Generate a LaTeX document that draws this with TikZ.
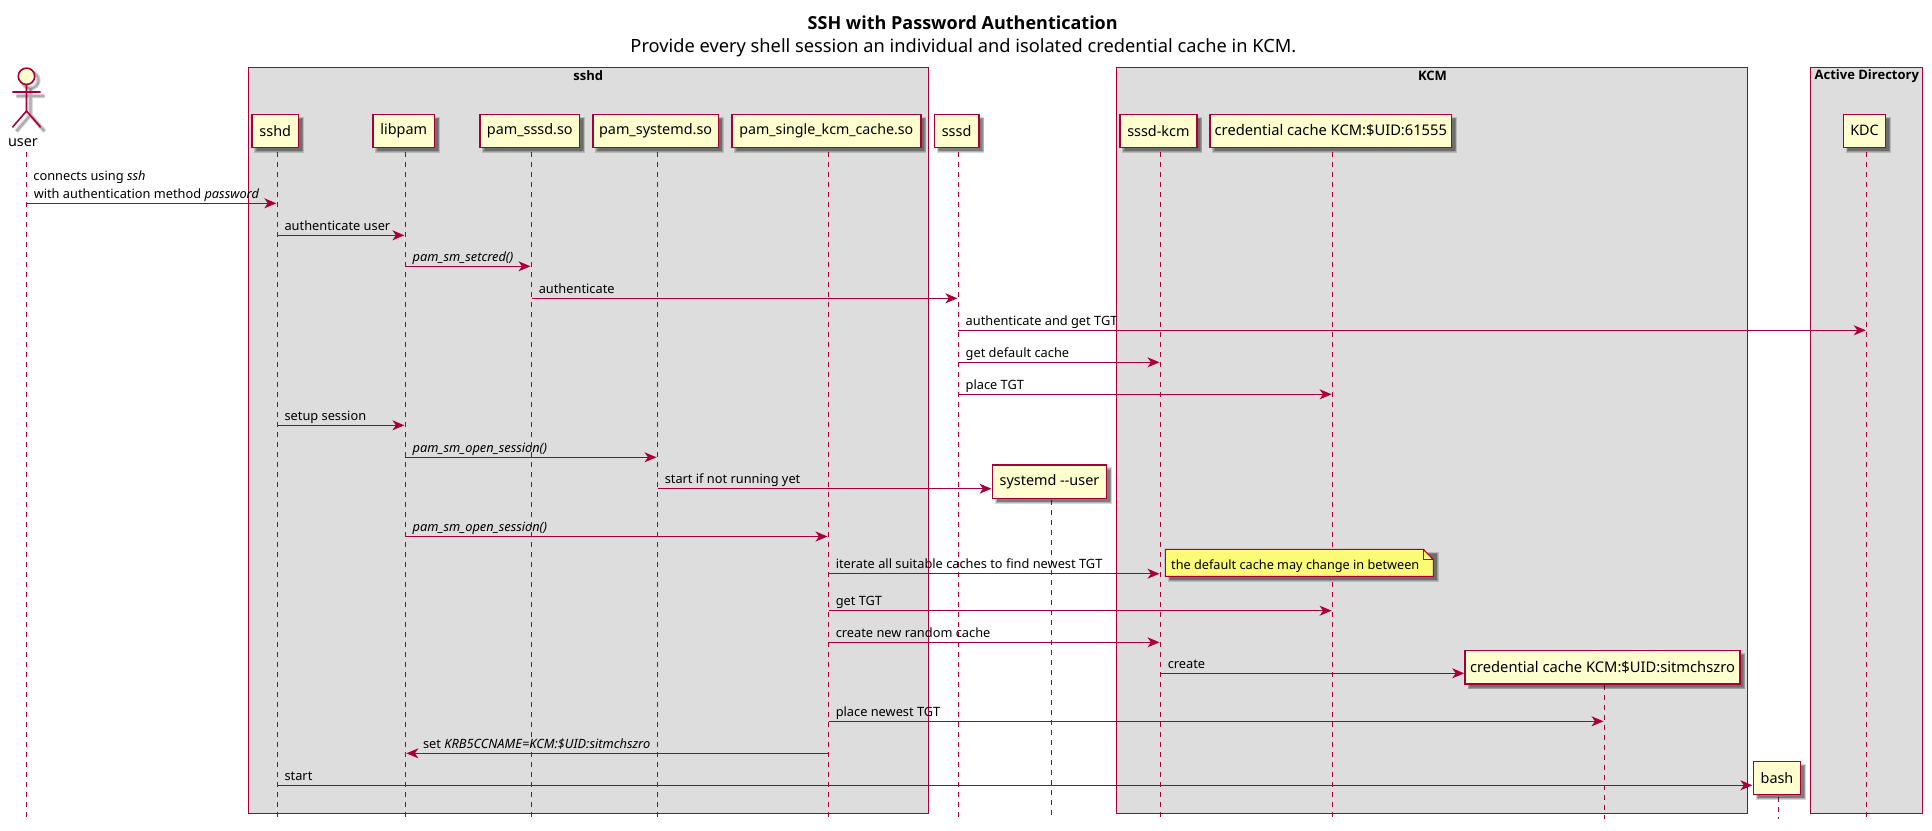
\documentclass[tikz,border=0pt]{standalone}
\usepackage{fontspec}
\setmainfont{Noto Sans}
\newfontfamily\nsbold{Open Sans}
\usetikzlibrary{arrows.meta,calc}
\definecolor{pborder}{HTML}{A80036}
\definecolor{pfill}{HTML}{FEFECE}
\definecolor{notefill}{HTML}{FBFB77}
\definecolor{groupfill}{HTML}{DDDDDD}
\tikzset{
  groupbox/.style={draw=pborder,fill=groupfill,line width=1.2pt},
  grouptitle/.style={inner sep=0pt,font=\nsbold\bfseries\fontsize{13}{15}\selectfont,anchor=center,text=black},
  pbox/.style={draw=pborder,fill=pfill,line width=1.6pt,inner sep=0pt,outer sep=0pt,font=\fontsize{14.4}{17}\selectfont,text=black},
  life/.style={draw=pborder,line width=1pt,dash pattern=on 5pt off 5pt},
  msg/.style={draw=pborder,line width=1.1pt,-{Stealth[length=12pt,width=10pt,inset=3.5pt]},shorten >=1pt},
  msgtext/.style={inner sep=0pt,anchor=base west,font=\fontsize{12.8}{15}\selectfont,text=black},
  actorline/.style={draw=pborder,line width=1.6pt},
}
% soft drop shadow of a rectangle
\newcommand{\softshade}[4]{%
  \foreach \e in {1.6,0.8,0,-0.8}{%
    \fill[black,opacity=0.16] ({#1+4-\e},{#2+4-\e}) rectangle ({#3+4+\e},{#4+4+\e});}}
% name, x1, y1, x2, y2, text
\newcommand{\partbox}[6]{%
  \softshade{#2}{#3}{#4}{#5}%
  \node[pbox,minimum width={(#4-#2)*1pt},minimum height={(#5-#3)*1pt}] (#1) at ({(#2+#4)/2},{(#3+#5)/2}) {#6};}
% name, x, top, bottom
\newcommand{\lifeline}[4]{%
  \coordinate (#1) at (#2,#3);
  \coordinate (#1-end) at (#2,#4);
  \draw[life] (#1) -- (#1-end);}
% id, from, to, y, text
\newcommand{\msgright}[5]{%
  \draw[msg] (#2 |- 0,#4) -- (#3 |- 0,#4)
    node[msgtext,pos=0,xshift=6.7pt,yshift=4.8pt] (#1) {#5};}
\begin{document}
\begin{tikzpicture}[x=1pt,y=-1pt]
\useasboundingbox (0,0) rectangle (1932,830);
\fill[white] (0,0) rectangle (1932,830);
% title
\node[inner sep=0pt,font=\nsbold\bfseries\fontsize{18}{21}\selectfont] (title) at (962.7,22.7) {SSH with Password Authentication};
\node[inner sep=0pt,font=\fontsize{18.25}{21}\selectfont] (subtitle) at (963.4,47.7) {Provide every shell session an individual and isolated credential cache in KCM.};
% groups
\draw[groupbox] (248.7,67.5) rectangle (928.6,813.3);
\draw[groupbox] (1116.8,67.5) rectangle (1747.6,813.3);
\draw[groupbox] (1810.6,67.5) rectangle (1922.5,813.3);
\node[grouptitle] (g-sshd) at (588.3,76) {sshd};
\node[grouptitle] (g-kcm) at (1432.5,76) {KCM};
\node[grouptitle] (g-ad) at (1866.8,76) {Active Directory};
% lifelines
\lifeline{user}{26.5}{152.3}{817.3}
\lifeline{sshd}{277.3}{152.3}{817.3}
\lifeline{libpam}{405.4}{152.3}{817.3}
\lifeline{sssdso}{531.5}{152.3}{817.3}
\lifeline{systemdso}{657.5}{152.3}{817.3}
\lifeline{singlekcm}{828.5}{152.3}{817.3}
\lifeline{sssd}{958.4}{152.3}{817.3}
\lifeline{systemduser}{1051.3}{500}{815}
\lifeline{sssdkcm}{1160.5}{152.3}{817.3}
\lifeline{cc}{1332.6}{152.3}{817.3}
\lifeline{ccnew}{1604.5}{685}{819}
\lifeline{bash}{1778.6}{797}{819}
\lifeline{kdc}{1866.8}{152.3}{817.3}
% actor
\begin{scope}[shift={(4,4)},draw=black,opacity=0.12]
  \foreach \w in {4.5,3,1.8}{
  \draw[line width=\w pt] (26.5,76.3) circle[radius=8];
  \draw[line width=\w pt] (26.5,84.5) -- (26.5,111) (12.4,92) -- (40.6,92) (12.4,127.3) -- (26.5,111) -- (40.6,127.3);}
\end{scope}
\filldraw[actorline,fill=pfill] (26.5,76.3) circle[radius=8.2];
\draw[actorline] (26.5,84.5) -- (26.5,111) (12.4,92) -- (40.6,92) (12.4,127.3) -- (26.5,111) -- (40.6,127.3);
\node[inner sep=0pt,font=\fontsize{14.4}{17}\selectfont] (actor-user) at (23,143) {user};
% participants
\partbox{p-sshd}{252}{114.3}{298.5}{147.3}{sshd}
\partbox{p-libpam}{373}{114.3}{434.5}{147.3}{libpam}
\partbox{p-sssdso}{480}{114.3}{579.6}{147.3}{pam\_sssd.so}
\partbox{p-systemdso}{592.8}{114.3}{718.4}{147.3}{pam\_systemd.so}
\partbox{p-single}{732}{114.3}{920.7}{147.3}{\fontsize{14.2}{17}\selectfont pam\_single\_kcm\_cache.so}
\partbox{p-sssd}{934.4}{114.3}{978.8}{147.3}{sssd}
\partbox{p-sssdkcm}{1120}{114.3}{1196.8}{147.3}{sssd-kcm}
\partbox{p-cc}{1210}{114.3}{1451.6}{147.3}{\fontsize{14.7}{17}\selectfont credential cache KCM:\$UID:61555}
\partbox{p-kdc}{1843.4}{114.3}{1885.6}{147.3}{KDC}
\partbox{p-systemduser}{992.5}{465}{1106.5}{498.3}{systemd -{}-user}
\partbox{p-ccnew}{1465.2}{650.3}{1739.7}{683.7}{\fontsize{14.7}{17}\selectfont credential cache KCM:\$UID:sitmchszro}
\partbox{p-bash}{1753.4}{761.3}{1800.6}{794.3}{bash}
% messages
\node[msgtext] (m1a) at (33.2,180.5) {connects using \textit{ssh}};
\msgright{m1}{user}{sshd}{203.3}{with authentication method \textit{password}}
\msgright{m2}{sshd}{libpam}{235.3}{authenticate user}
\msgright{m3}{libpam}{sssdso}{266.3}{\textit{pam\_sm\_setcred()}}
\msgright{m4}{sssdso}{sssd}{298.3}{authenticate}
\msgright{m5}{sssd}{kdc}{330.3}{authenticate and get TGT}
\msgright{m6}{sssd}{sssdkcm}{362.3}{get default cache}
\msgright{m7}{sssd}{cc}{394.3}{place TGT}
\msgright{m8}{sshd}{libpam}{425.3}{setup session}
\msgright{m9}{libpam}{systemdso}{457.3}{\textit{pam\_sm\_open\_session()}}
\msgright{m10}{systemdso}{p-systemduser.west}{488.7}{start if not running yet}
\msgright{m11}{libpam}{singlekcm}{536.5}{\textit{pam\_sm\_open\_session()}}
\msgright{m12}{singlekcm}{sssdkcm}{573.7}{iterate all suitable caches to find newest TGT}
\msgright{m13}{singlekcm}{cc}{610.7}{get TGT}
\msgright{m14}{singlekcm}{sssdkcm}{642.3}{create new random cache}
\msgright{m15}{sssdkcm}{p-ccnew.west}{673.3}{create}
\msgright{m16}{singlekcm}{ccnew}{721.3}{place newest TGT}
\draw[msg] (singlekcm |- 0,753.3) -- (libpam |- 0,753.3);
\node[msgtext] (m17) at (422.9,748.5) {set \textit{KRB5CCNAME=KCM:\$UID:sitmchszro}};
\msgright{m18}{sshd}{p-bash.west}{785.3}{start}
% note
\softshade{1165.3}{549.3}{1433.3}{576.3}
\draw[pborder,fill=notefill,line width=1.1pt] (1165.3,549.3) -- (1423.3,549.3) -- (1433.3,559.6) -- (1433.3,576.3) -- (1165.3,576.3) -- cycle;
\draw[pborder,line width=1.1pt] (1423.3,549.3) -- (1423.3,559.6) -- (1433.3,559.6);
\node[msgtext,font=\fontsize{12.7}{15}\selectfont] (note) at (1171,569) {the default cache may change in between};
\end{tikzpicture}
\end{document}
